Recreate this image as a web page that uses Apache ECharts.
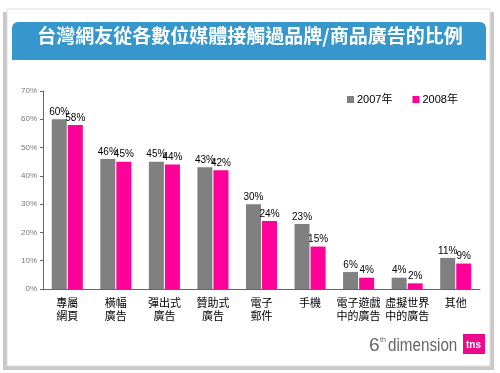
<!DOCTYPE html>
<html><head><meta charset="utf-8">
<script src="https://cdn.jsdelivr.net/npm/echarts@6/dist/echarts.min.js"></script>
<style>html,body{margin:0;padding:0;background:#fff;}#c{width:500px;height:373px;}</style>
</head><body><div id="c"></div>
<script>
const categories = ['專屬\n網頁','橫幅\n廣告','彈出式\n廣告','贊助式\n廣告','電子\n郵件','手機','電子遊戲\n中的廣告','虛擬世界\n中的廣告','其他'];
const series2007 = [60,46,45,43,30,23,6,4,11];
const series2008 = [58,45,44,42,24,15,4,2,9];
const seriesNames = ['2007年','2008年'];
const titleText = '台灣網友從各數位媒體接觸過品牌/商品廣告的比例';
const FONT = '"Liberation Sans", "Noto Sans CJK TC", sans-serif';

const chart = echarts.init(document.getElementById('c'), null, {renderer:'canvas'});
chart.setOption({
  animation:false,
  backgroundColor:'#ffffff',
  textStyle:{fontFamily:FONT},
  graphic:[
    {type:'rect',z:-10,shape:{x:3,y:12,width:491,height:358},style:{fill:'#c8c8c8'}},
    {type:'rect',z:-9,shape:{x:7,y:9,width:483,height:357},style:{fill:'#ffffff',stroke:'#dddddd',lineWidth:1}},
    {type:'rect',z:-8,shape:{x:12,y:22,width:474,height:38,r:[6,6,0,0]},style:{fill:'#3597cb'}},
    {type:'text',z:-7,left:'center',top:26,style:{text:titleText,fill:'#ffffff',font:'bold 19px "Noto Sans CJK TC", sans-serif'}},
    {type:'text',x:369,y:336,style:{text:'6',fill:'#666666',font:'19px "Liberation Sans", sans-serif'}},
    {type:'text',x:380,y:337,style:{text:'th',fill:'#666666',font:'7px "Liberation Sans", sans-serif'}},
    {type:'text',x:388,y:336,scaleX:0.8,style:{text:'dimension',fill:'#666666',font:'19px "Liberation Sans", sans-serif'}},
    {type:'rect',shape:{x:463,y:334,width:22,height:20},style:{fill:'#ee0a8c'}},
    {type:'text',x:466,y:340,style:{text:'tns',fill:'#ffffff',font:'bold 10px "Liberation Sans", sans-serif'}}
  ],
  legend:{
    data:seriesNames,
    left:342, top:89,
    itemWidth:7, itemHeight:7, itemGap:20,
    icon:'rect',
    textStyle:{fontSize:11,color:'#000',fontFamily:FONT,padding:[0,0,0,-2]}
  },
  grid:{left:43,right:20,top:91,bottom:84,containLabel:false},
  xAxis:{
    type:'category',
    data:categories,
    axisLine:{lineStyle:{color:'#666666',width:1}},
    axisTick:{show:false},
    axisLabel:{fontSize:11,color:'#000',lineHeight:13,margin:8,interval:0,fontFamily:FONT}
  },
  yAxis:{
    type:'value',min:0,max:70,interval:10,
    axisLine:{show:true,lineStyle:{color:'#666666'}},
    axisTick:{show:true,length:3,lineStyle:{color:'#666666'}},
    splitLine:{show:false},
    axisLabel:{formatter:'{value}%',fontSize:8,color:'#777',margin:6,fontFamily:FONT}
  },
  series:[
    {name:seriesNames[0],type:'bar',data:series2007,barWidth:15,barGap:'7%',
     itemStyle:{color:'#808080'},
     label:{show:true,position:'top',formatter:'{c}%',fontSize:10,color:'#000',distance:2,fontFamily:FONT}},
    {name:seriesNames[1],type:'bar',data:series2008,barWidth:15,
     itemStyle:{color:'#ff0099'},
     label:{show:true,position:'top',formatter:'{c}%',fontSize:10,color:'#000',distance:2,fontFamily:FONT}}
  ]
});
</script></body></html>
